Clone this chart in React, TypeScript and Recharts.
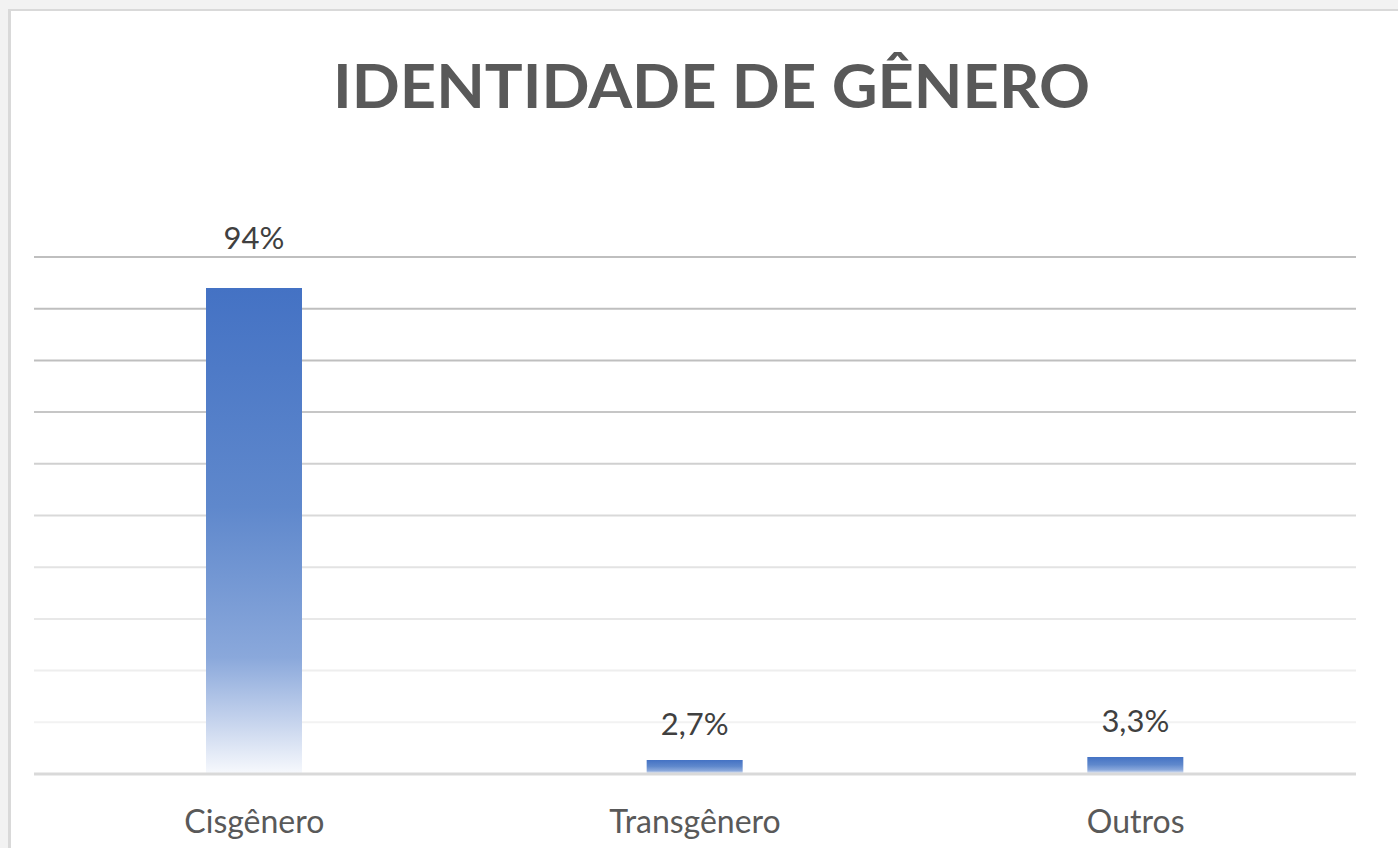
import { BarChart, Bar, XAxis, YAxis, CartesianGrid, LabelList } from 'recharts';

const categories = ['Cisgênero', 'Transgênero', 'Outros'];
const shares = [94, 2.7, 3.3];
const yTicks = [0, 10, 20, 30, 40, 50, 60, 70, 80, 90, 100];

// gridlines fade from mid grey at the top to very light at the bottom
const gridColors = ['#d9d9d9', '#f2f2f2', '#eeeeee', '#e8e8e8', '#e3e3e3', '#d9d9d9', '#d0d0d0', '#c6c6c6', '#bfbfbf', '#bfbfbf', '#bfbfbf'];

const data = categories.map((name, i) => ({ name, value: shares[i] }));

const fmt = (v: number) => `${String(v).replace('.', ',')}%`;

const font = 'Lato, "Open Sans", sans-serif';

function GridLine(props: any) {
  const { x1, x2, y1, y2, index } = props;
  return <line x1={x1} x2={x2} y1={y1} y2={y2} stroke={gridColors[index] ?? '#d9d9d9'} strokeWidth={2} />;
}

function ValueLabel(props: any) {
  const { x, y, width, value, index } = props;
  const lift = index === 0 ? 39 : 25;
  return (
    <text x={x + width / 2} y={y - lift} textAnchor="middle" fill="#404040" fontSize={31} fontFamily={font}>
      {fmt(value)}
    </text>
  );
}

export default function App() {
  return (
    <div style={{ position: 'fixed', left: 0, top: 0, width: 1398, height: 848, background: '#f2f2f2', overflow: 'hidden' }}>
      <div
        style={{
          position: 'absolute',
          left: 8,
          top: 9,
          width: 1390,
          height: 839,
          background: '#fff',
          borderLeft: '3px solid #d9d9d9',
          borderTop: '2px solid #d9d9d9',
          boxSizing: 'border-box',
        }}
      />
      <svg width={1398} height={140} style={{ position: 'absolute', left: 0, top: 0 }}>
        <text
          x={333}
          y={108}
          textLength={757}
          lengthAdjust="spacingAndGlyphs"
          fill="#595959"
          fontSize={62}
          fontWeight={700}
          fontFamily={font}
        >
          IDENTIDADE DE GÊNERO
        </text>
      </svg>
      <div style={{ position: 'absolute', left: 0, top: 0 }}>
        <BarChart width={1398} height={848} data={data} margin={{ top: 257, right: 42, left: 34, bottom: 14 }}>
          <defs>
            <linearGradient id="barFade" x1="0" y1="0" x2="0" y2="1">
              <stop offset="0" stopColor="#4472c4" />
              <stop offset="0.45" stopColor="#5f88cc" />
              <stop offset="0.76" stopColor="#8aa8db" />
              <stop offset="0.9" stopColor="#c9d6ee" />
              <stop offset="1" stopColor="#f7f9fd" />
            </linearGradient>
          </defs>
          <CartesianGrid vertical={false} horizontal={(p: any) => <GridLine {...p} />} />
          <XAxis
            dataKey="name"
            height={60}
            tickLine={false}
            axisLine={{ stroke: '#d9d9d9', strokeWidth: 3 }}
            tick={{ fill: '#595959', fontSize: 32, fontFamily: font }}
            tickMargin={30}
          />
          <YAxis hide domain={[0, 100]} ticks={yTicks} />
          <Bar dataKey="value" fill="url(#barFade)" barSize={96} isAnimationActive={false}>
            <LabelList dataKey="value" content={<ValueLabel />} />
          </Bar>
        </BarChart>
      </div>
    </div>
  );
}
